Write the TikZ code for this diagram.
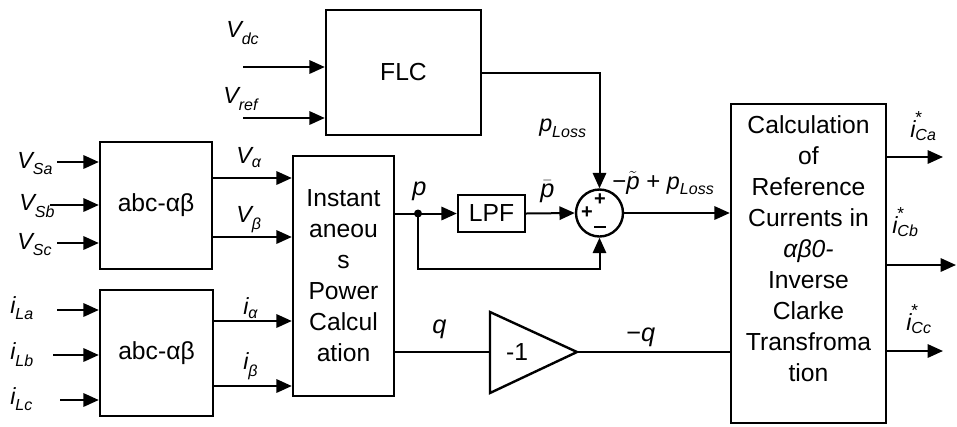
\documentclass[tikz,border=0pt]{standalone}
\usepackage{fontspec}
\setmainfont{Liberation Sans}
\usetikzlibrary{arrows.meta}
\newcommand\sy[2]{$\mbox{\fontsize{17.5}{17.5}\selectfont\itshape #1}_{\mbox{\fontsize{12}{12}\selectfont\itshape #2}}$}
\newcommand\syst[2]{$\mbox{\fontsize{17.5}{17.5}\selectfont\itshape #1}^{\mbox{\fontsize{13}{13}\selectfont *}}_{\mbox{\fontsize{12}{12}\selectfont\itshape #2}}$}
\begin{document}
\begin{tikzpicture}[x=0.75pt,y=-0.75pt,
  box/.style={draw,line width=1.8pt,inner sep=0pt},
  txt/.style={font=\fontsize{18.5}{23.25}\selectfont,align=center,inner sep=0pt},
  wire/.style={line width=1.5pt},
  arr/.style={line width=1.5pt,-{Triangle[length=11.5pt,width=10pt]}},
  lab/.style={inner sep=0pt,anchor=base west},
  sgn/.style={inner sep=0pt,font=\fontsize{15}{15}\selectfont\bfseries}]
\useasboundingbox (0,0) rectangle (957,426);
% blocks
\node[box,minimum width=155*0.75pt,minimum height=125*0.75pt,txt] (flc) at (403.5,72.5) {FLC};
\node[box,minimum width=112*0.75pt,minimum height=127*0.75pt,txt] (abc1) at (156,205.5) {abc-αβ};
\node[box,minimum width=113*0.75pt,minimum height=126*0.75pt,txt] (abc2) at (156.5,353) {abc-αβ};
\node[box,minimum width=101*0.75pt,minimum height=240*0.75pt,txt] (inst) at (343.5,276) {Instant\\aneou\\s\\Power\\Calcul\\ation};
\node[box,minimum width=67*0.75pt,minimum height=37*0.75pt,txt] (lpf) at (491.5,213.5) {LPF};
\node[draw,line width=1.8pt,circle,minimum size=47*0.75pt,inner sep=0pt] (sum) at (599.5,213) {};
\node[box,minimum width=155*0.75pt,minimum height=319*0.75pt] (calc) at (808.5,263.5) {};
\node[txt] (calctext) at (808.5,249) {Calculation\\of\\Reference\\Currents in\\\textit{αβ0-}\\Inverse\\Clarke\\Transfroma\\tion};
\draw[line width=1.8pt] (490,312) -- (577,352) -- (490,393) -- cycle;
\coordinate (gin) at (490,352);
\coordinate (gout) at (577,352);
\node[txt] (gain) at (517,352) {-1};
% sum signs
\node[sgn] (s1) at (587,213) {+};
\node[sgn] (s2) at (600,200) {+};
\node[sgn] (s3) at (600,227) {\rule{9pt}{1.6pt}};
% inputs
\coordinate (vdc) at (243,67);
\coordinate (vref) at (243,118);
\draw[arr] (vdc) -- (vdc -| flc.west);
\draw[arr] (vref) -- (vref -| flc.west);
\coordinate (vsa) at (57,162);
\coordinate (vsb) at (50,205);
\coordinate (vsc) at (57,243);
\draw[arr] (vsa) -- (vsa -| abc1.west);
\draw[arr] (vsb) -- (vsb -| abc1.west);
\draw[arr] (vsc) -- (vsc -| abc1.west);
\coordinate (ila) at (57,310);
\coordinate (ilb) at (53,355);
\coordinate (ilc) at (60,400);
\draw[arr] (ila) -- (ila -| abc2.west);
\draw[arr] (ilb) -- (ilb -| abc2.west);
\draw[arr] (ilc) -- (ilc -| abc2.west);
% abc outputs
\coordinate (va) at (abc1.east |- 0,178);
\coordinate (vb) at (abc1.east |- 0,237);
\coordinate (ia) at (abc2.east |- 0,321);
\coordinate (ib) at (abc2.east |- 0,386);
\draw[arr] (va) -- (va -| inst.west);
\draw[arr] (vb) -- (vb -| inst.west);
\draw[arr] (ia) -- (ia -| inst.west);
\draw[arr] (ib) -- (ib -| inst.west);
% FLC to sum
\draw[arr] (flc.east) -| (sum.north);
% p path
\coordinate (pout) at (inst.east |- lpf.west);
\coordinate (dot) at (418,213.5);
\fill (dot) circle (4);
\draw[wire] (pout) -- (dot);
\draw[arr] (dot) -- (lpf.west);
\draw[arr] (lpf.east) -- (sum.west);
\coordinate (fb) at (418,269);
\draw[arr] (dot) -- (fb) -| (sum.south);
\draw[arr] (sum.east) -- (sum.east -| calc.west);
% q path
\coordinate (qout) at (inst.east |- gin);
\draw[wire] (qout) -- (gin);
\draw[wire] (gout) -- (gout -| calc.west);
% outputs
\coordinate (oa) at (calc.east |- 0,157);
\coordinate (ob) at (calc.east |- 0,265);
\coordinate (oc) at (calc.east |- 0,351);
\coordinate (ea) at (943,157);
\coordinate (eb) at (956,265);
\coordinate (ec) at (943,351);
\draw[arr] (oa) -- (ea);
\draw[arr] (ob) -- (eb);
\draw[arr] (oc) -- (ec);
% labels
\node[lab] (lvdc) at (226,37) {\sy{V}{dc}};
\node[lab] (lvref) at (223,103) {\sy{V}{ref}};
\node[lab] (lvsa) at (17,168) {\sy{V}{Sa}};
\node[lab] (lvsb) at (19,210) {\sy{V}{Sb}};
\node[lab] (lvsc) at (17,249) {\sy{V}{Sc}};
\node[lab] (lva) at (236,163) {\sy{V}{α}};
\node[lab] (lvb) at (236,222) {\sy{V}{β}};
\node[lab] (lila) at (10,313) {\sy{i}{La}};
\node[lab] (lilb) at (10,359) {\sy{i}{Lb}};
\node[lab] (lilc) at (10,404) {\sy{i}{Lc}};
\node[lab] (lia) at (243,314) {\sy{i}{α}};
\node[lab] (lib) at (243,369) {\sy{i}{β}};
\node[lab] (lp) at (412,195) {\textit{\fontsize{19}{19}\selectfont p}};
\node[lab] (lpbar) at (540,197) {\fontsize{19}{19}\selectfont$\bar{\mbox{\itshape p}}$};
\node[lab] (lploss) at (539,131) {\sy{p}{Loss}};
\node[lab] (lsum) at (612,189) {\fontsize{18}{18}\selectfont −$\tilde{\mbox{\itshape p}}$ + \sy{p}{Loss}};
\node[lab] (lq) at (432,333) {\textit{\fontsize{19}{19}\selectfont q}};
\node[lab] (lmq) at (626,341) {\fontsize{19}{19}\selectfont −\textit{q}};
\node[lab] (lca) at (910,137) {\syst{i}{Ca}};
\node[lab] (lcb) at (892,233) {\syst{i}{Cb}};
\node[lab] (lcc) at (906,330) {\syst{i}{Cc}};
\end{tikzpicture}
\end{document}
